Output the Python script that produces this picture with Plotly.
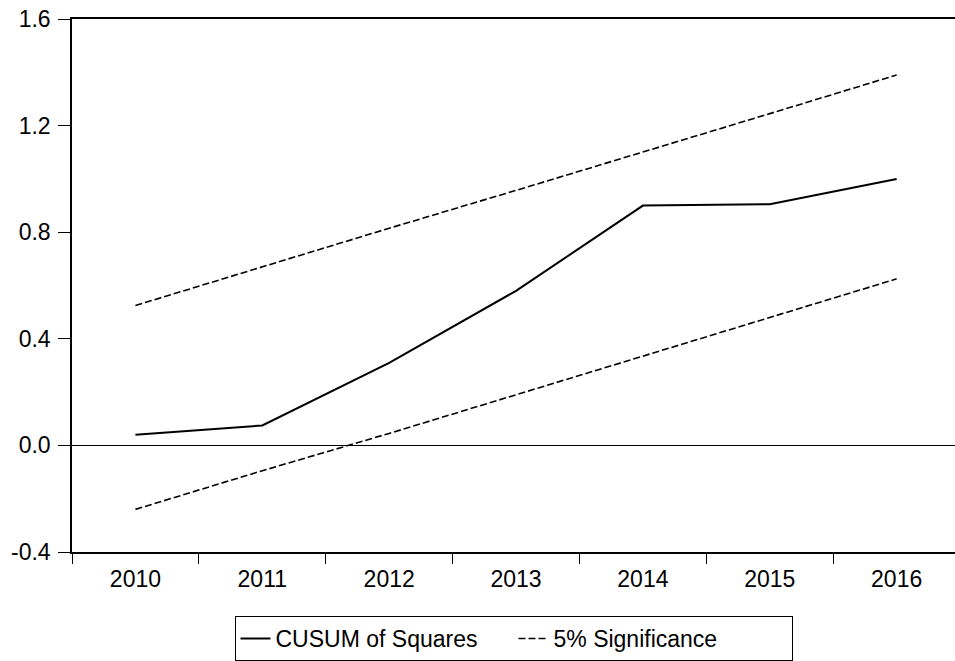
import plotly.graph_objects as go

years = ["2010", "2011", "2012", "2013", "2014", "2015", "2016"]
cusum_sq = [0.04, 0.075, 0.31, 0.58, 0.90, 0.905, 1.0]
upper_5 = [0.525, 0.67, 0.815, 0.957, 1.10, 1.245, 1.39]
lower_5 = [-0.24, -0.095, 0.045, 0.19, 0.335, 0.478, 0.625]
y_ticks = [-0.4, 0.0, 0.4, 0.8, 1.2, 1.6]

FONT = "Liberation Sans, Arial, sans-serif"

fig = go.Figure()
fig.add_trace(go.Scatter(x=years, y=cusum_sq, mode="lines", name="CUSUM of Squares",
                         line=dict(color="black", width=2)))
fig.add_trace(go.Scatter(x=years, y=upper_5, mode="lines", name="5% Significance",
                         line=dict(color="black", width=1.6, dash="7px,3px")))
fig.add_trace(go.Scatter(x=years, y=lower_5, mode="lines", name="5% Significance",
                         showlegend=False,
                         line=dict(color="black", width=1.6, dash="7px,3px")))

fig.update_layout(
    width=955, height=661,
    margin=dict(l=72, r=0, t=19, b=108),
    paper_bgcolor="white", plot_bgcolor="white",
    font=dict(family=FONT, color="black", size=23),
    hovermode=False,
    showlegend=True,
    legend=dict(orientation="h", x=0.5, xanchor="center", y=-0.12, yanchor="top",
                bordercolor="black", borderwidth=1, bgcolor="white",
                font=dict(size=23), traceorder="normal", entrywidth=233),
)
fig.update_xaxes(type="category", range=[-0.5, 6.46], tickson="boundaries",
                 ticks="outside", ticklen=10, tickcolor="black", tickwidth=1,
                 ticklabelstandoff=6,
                 showline=True, linecolor="black", linewidth=1.5, mirror=True,
                 showgrid=False, zeroline=False, showspikes=False,
                 tickfont=dict(size=23))
fig.update_yaxes(range=[-0.4, 1.6001], tickvals=y_ticks,
                 ticktext=[f"{v:.1f}" for v in y_ticks],
                 ticks="outside", ticklen=12, tickcolor="black", tickwidth=1,
                 ticklabelstandoff=3,
                 showline=True, linecolor="black", linewidth=1.5,
                 showgrid=False, zeroline=True, zerolinecolor="black", zerolinewidth=1,
                 showspikes=False, tickfont=dict(size=23))

fig.write_html("out.html", config={"displayModeBar": False},
               post_script=("document.body.style.margin='0';"
                            "document.body.style.overflow='hidden';"))
